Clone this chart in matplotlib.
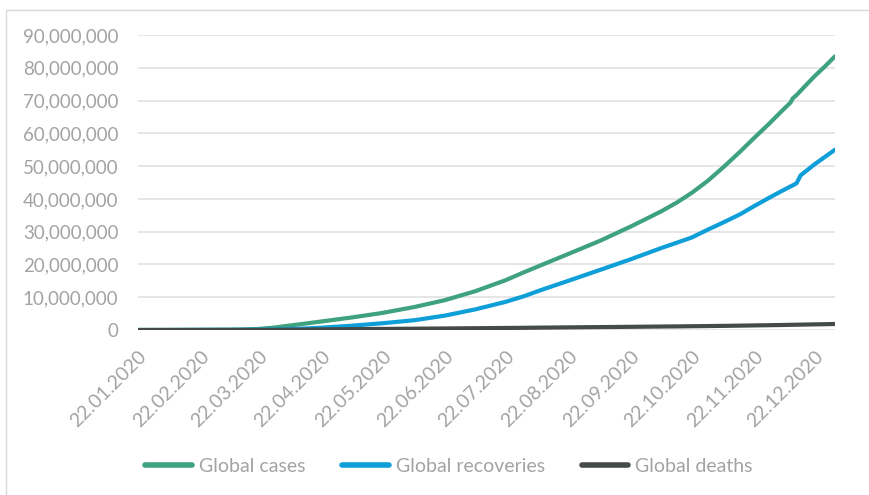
import matplotlib; matplotlib.use("Agg")
import matplotlib.pyplot as plt
import matplotlib.dates as mdates
import matplotlib.ticker as mticker
from matplotlib.patches import Rectangle
import pandas as pd

GREEN = "#3FA27E"; BLUE = "#0E9ED8"; DARK = "#454B46"; GRID = "#E1E1E1"; TXT = "#A3A3A3"
plt.rcParams.update({"font.family": ["Lato", "DejaVu Sans"], "font.size": 14})

dates = ["2020-01-22", "2020-02-07", "2020-02-22", "2020-03-07", "2020-03-15", "2020-03-22",
         "2020-03-29", "2020-04-07", "2020-04-14", "2020-04-22", "2020-05-07", "2020-05-22",
         "2020-06-07", "2020-06-22", "2020-07-07", "2020-07-22", "2020-07-31", "2020-08-09",
         "2020-08-22", "2020-09-07", "2020-09-22", "2020-10-07", "2020-10-15", "2020-10-22",
         "2020-10-30", "2020-11-07", "2020-11-15", "2020-11-22", "2020-11-29", "2020-12-05",
         "2020-12-10", "2020-12-11", "2020-12-13", "2020-12-15", "2020-12-22", "2020-12-27",
         "2021-01-01"]
# millions
cases = [0.0006, 0.034, 0.078, 0.106, 0.17, 0.337,
         0.72, 1.43, 1.98, 2.62, 3.84, 5.21,
         7.04, 9.12, 11.85, 15.2, 17.6, 19.9,
         23.2, 27.3, 31.6, 36.2, 39.0, 41.8,
         45.5, 49.8, 54.4, 58.6, 62.7, 66.4,
         69.4, 70.6, 71.7, 73.0, 77.5, 80.4,
         83.5]
recoveries = [0.00003, 0.0015, 0.023, 0.055, 0.078, 0.098,
              0.15, 0.30, 0.47, 0.71, 1.32, 2.06,
              3.0, 4.4, 6.3, 8.6, 10.3, 12.3,
              15.0, 18.4, 21.6, 25.0, 26.7, 28.2,
              30.6, 32.9, 35.3, 37.8, 40.2, 42.2,
              43.8, 44.1, 44.8, 47.2, 50.6, 52.8,
              55.0]
deaths = [0.00002, 0.0006, 0.0024, 0.0036, 0.0065, 0.0148,
          0.034, 0.088, 0.126, 0.185, 0.27, 0.335,
          0.40, 0.47, 0.545, 0.625, 0.67, 0.73,
          0.80, 0.89, 0.97, 1.06, 1.10, 1.15,
          1.20, 1.26, 1.33, 1.40, 1.46, 1.52,
          1.58, 1.59, 1.61, 1.64, 1.72, 1.77,
          1.83]
labels = ["Global cases", "Global recoveries", "Global deaths"]

x = pd.to_datetime(dates)
fig = plt.figure(figsize=(8.7, 4.95), dpi=100)
ax = fig.add_axes([138/870, 1-330/495, (835-138)/870, (330-35)/495])
for vals, col, lab in zip([cases, recoveries, deaths], [GREEN, BLUE, DARK], labels):
    ax.plot(x, [v*1e6 for v in vals], color=col, lw=3, solid_capstyle="round",
            solid_joinstyle="round", label=lab)

ax.set_xlim(x[0], x[-1]); ax.set_ylim(0, 90e6)
ax.yaxis.set_major_locator(mticker.MultipleLocator(10e6))
ax.yaxis.set_major_formatter(mticker.FuncFormatter(lambda v, p: f"{v:,.0f}"))
ax.xaxis.set_major_locator(mdates.MonthLocator(bymonthday=22))
ax.xaxis.set_major_formatter(mdates.DateFormatter("%d.%m.%Y"))
ax.tick_params(axis="both", length=0, colors=TXT, labelsize=14)
ax.tick_params(axis="y", pad=14, labelsize=13.5)
ax.tick_params(axis="x", pad=13)
for lbl in ax.get_xticklabels():
    lbl.set_rotation(45); lbl.set_ha("right"); lbl.set_rotation_mode("anchor")
ax.grid(axis="y", color=GRID, lw=1.2); ax.set_axisbelow(True)
for s in ax.spines.values(): s.set_visible(False)

leg = fig.legend(loc="center", bbox_to_anchor=(449/870, 1-466/495), ncol=3, frameon=False,
                 handlelength=2.4, handletextpad=0.35, columnspacing=1.9, fontsize=14)
for t in leg.get_texts(): t.set_color(TXT)
for h in leg.get_lines(): h.set_linewidth(4)

fig.patches.append(Rectangle((6/870, -0.05), 1.2, 1.05-10/495, transform=fig.transFigure,
                             fill=False, edgecolor="#D9D9D9", lw=1))
fig.savefig("out.png", dpi=100)
